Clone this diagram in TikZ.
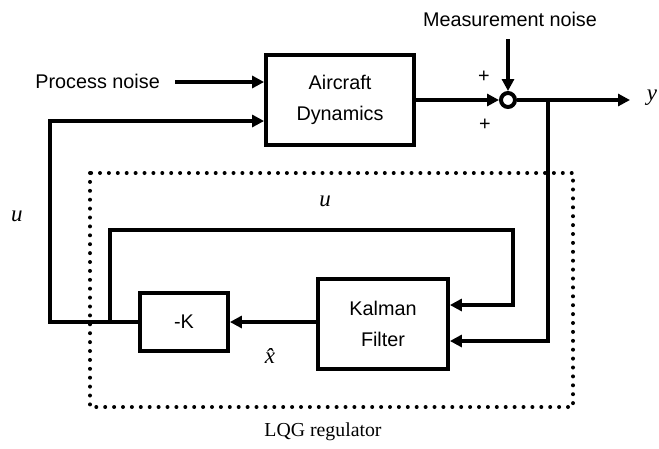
\documentclass[tikz,border=0pt]{standalone}
\usepackage{fontspec}
\setmainfont{Liberation Sans}
\newfontfamily\tms{Liberation Serif}
\usetikzlibrary{arrows.meta}
\tikzset{
  lw/.style={line width=3.8pt},
  arr/.style={lw,-{Triangle[length=12pt,width=12pt]}},
  blk/.style={draw,lw,rectangle,align=center,inner sep=0pt,font=\fontsize{19.8}{31}\selectfont},
  lbl/.style={inner sep=0pt,font=\fontsize{19.8}{24}\selectfont},
  ital/.style={inner sep=0pt,font=\tms\itshape\fontsize{23}{26}\selectfont},
  dotbox/.style={line width=4pt,line cap=round,dash pattern=on 0pt off 8.9pt}
}
\begin{document}
\begin{tikzpicture}[x=1pt,y=-1pt]
\useasboundingbox (0,0) rectangle (659,448);
% blocks
\node[blk,minimum width=148pt,minimum height=90pt] (ac) at (340,100) {Aircraft\\Dynamics};
\node[blk,minimum width=130pt,minimum height=90pt] (kf) at (383,324) {Kalman\\Filter};
\node[blk,minimum width=88pt,minimum height=58pt] (k) at (184,322) {-K};
\node[draw,line width=4pt,circle,minimum size=14pt,inner sep=0pt] (sum) at (508,100) {};
% texts
\node[lbl,anchor=east] (pn) at (160,81) {Process noise};
\node[lbl] (mn) at (510,19) {Measurement noise};
\node[lbl] (p1) at (484,77) {+};
\node[lbl] (p2) at (485,125) {+};
\node[ital] (uo) at (17,216) {u};
\node[ital] (ui) at (325,201) {u};
\node[ital] (xh) at (270,356) {\^{x}};
\node[ital] (yl) at (652,98) {y};
\node[inner sep=0pt,font=\tms\fontsize{19.8}{24}\selectfont] (lqg) at (323,432) {LQG regulator};
% coordinates
\coordinate (pns) at (175,82);
\coordinate (ul) at (50,121);
\coordinate (uj) at (110,321);
\coordinate (ut) at (513,230);
\coordinate (mt) at (508,39);
\coordinate (yo) at (630,100);
\coordinate (br) at (548,100);
% dotted regulator box
\draw[dotbox] (90,173) rectangle (573,407);
% connectors
\draw[arr] (pns) -- (ac.west |- pns);
\draw[arr] (k.west) -| (ul) -- (ac.west |- ul);
\draw[arr] (uj) |- (ut) |- ([yshift=19pt]kf.east);
\draw[arr] (kf.west |- k) -- (k.east);
\draw[arr] (ac.east |- sum) -- (sum.west);
\draw[arr] (mt) -- (sum.north);
\draw[arr] (sum.east) -- (yo);
\draw[arr] (br) |- ([yshift=-17pt]kf.east);
\end{tikzpicture}
\end{document}
